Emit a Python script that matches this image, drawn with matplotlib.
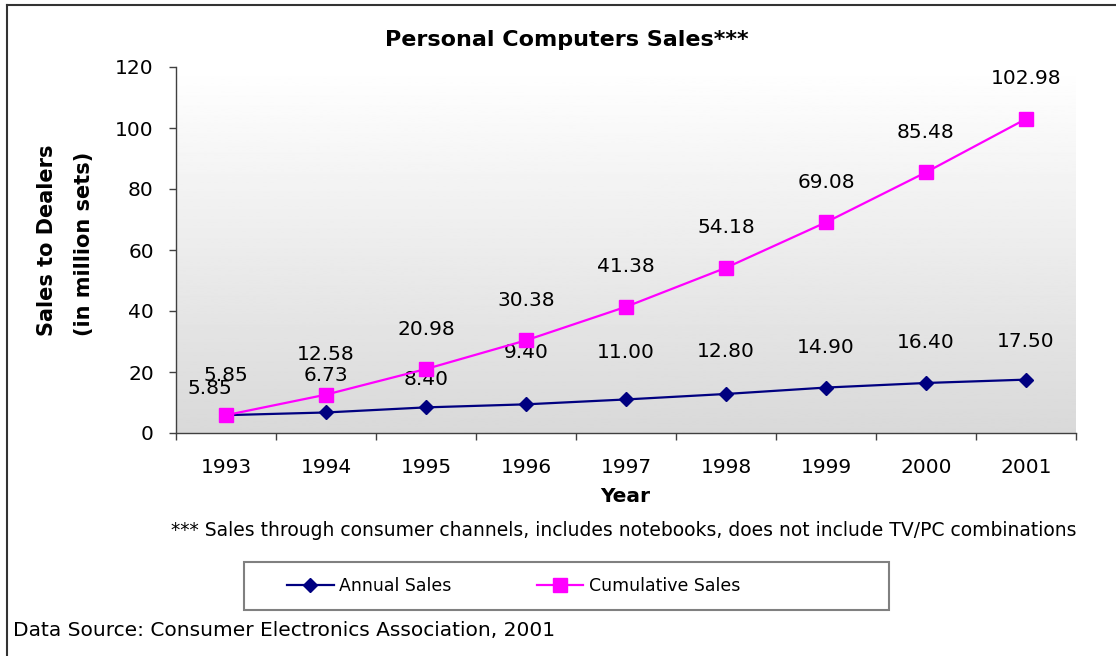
import numpy as np
import matplotlib
matplotlib.use("Agg")
import matplotlib.pyplot as plt
from matplotlib.lines import Line2D

# Chart data
years = ["1993", "1994", "1995", "1996", "1997", "1998", "1999", "2000", "2001"]
annual_sales = [5.85, 6.73, 8.40, 9.40, 11.00, 12.80, 14.90, 16.40, 17.50]
cumulative_sales = [5.85, 12.58, 20.98, 30.38, 41.38, 54.18, 69.08, 85.48, 102.98]
y_ticks = [0, 20, 40, 60, 80, 100, 120]

# label offsets (pixels) as placed in the original chart
annual_label_offsets = [(-16, 27), (0, 37), (0, 28), (0, 52), (0, 47), (0, 42), (0, 40), (0, 40), (0, 38)]
cumulative_label_offset = (0, 40)

W, H = 1116, 656
plt.rcParams["font.family"] = ["DejaVu Sans"]

fig = plt.figure(figsize=(W / 100, H / 100), dpi=100)
fig.patch.set_facecolor("white")


def fx(px):
    return px / W


def fy(py):
    return 1 - py / H


ax = fig.add_axes([fx(176), fy(433), 900 / W, 366 / H])
x = np.arange(len(years))

# gradient plot area background
grad = np.linspace(1.0, 0.85, 256).reshape(-1, 1)
ax.imshow(grad, cmap="gray", vmin=0, vmax=1, aspect="auto",
          extent=[-0.5, len(years) - 0.5, 0, 120], origin="upper", zorder=0)

ax.plot(x, annual_sales, color="#000080", lw=1.6, marker="D", ms=7,
        mfc="#000080", mec="#000080", zorder=3)
ax.plot(x, cumulative_sales, color="#ff00ff", lw=1.6, marker="s", ms=9.5,
        mfc="#ff00ff", mec="#ff00ff", zorder=4)

for i, v in enumerate(annual_sales):
    ax.annotate(f"{v:.2f}", (x[i], v), xytext=annual_label_offsets[i],
                textcoords="offset pixels", ha="center", va="center", fontsize=14.5)
for i, v in enumerate(cumulative_sales):
    ax.annotate(f"{v:.2f}", (x[i], v), xytext=cumulative_label_offset,
                textcoords="offset pixels", ha="center", va="center", fontsize=14.5)

ax.set_xlim(-0.5, len(years) - 0.5)
ax.set_ylim(0, 120)
ax.set_yticks(y_ticks)
ax.set_xticks(x)
ax.set_xticklabels(years)
ax.set_xticks(np.arange(-0.5, len(years)), minor=True)
ax.tick_params(axis="x", which="major", length=0, pad=18, labelsize=14.5)
ax.tick_params(axis="x", which="minor", length=5, width=1, color="#404040")
ax.tick_params(axis="y", length=5, width=1, color="#404040", pad=11, labelsize=14.5)
for s in ["top", "right"]:
    ax.spines[s].set_visible(False)
for s in ["left", "bottom"]:
    ax.spines[s].set_color("#404040")
    ax.spines[s].set_linewidth(1)

# titles and notes
fig.text(fx(567), fy(40), "Personal Computers Sales***", ha="center", va="center",
         fontsize=16, fontweight="bold")
fig.text(fx(625), fy(497), "Year", ha="center", va="center", fontsize=14.5, fontweight="bold")
fig.text(fx(47), fy(240), "Sales to Dealers", ha="center", va="center", rotation=90,
         fontsize=15, fontweight="bold")
fig.text(fx(84), fy(244), "(in million sets)", ha="center", va="center", rotation=90,
         fontsize=15, fontweight="bold")
fig.text(fx(624), fy(530),
         "*** Sales through consumer channels, includes notebooks, does not include TV/PC combinations",
         ha="center", va="center", fontsize=13.5)
fig.text(fx(13), fy(631), "Data Source: Consumer Electronics Association, 2001",
         ha="left", va="center", fontsize=14.5)

# legend box
fig.add_artist(plt.Rectangle((fx(244), fy(610)), (889 - 244) / W, 48 / H,
                             transform=fig.transFigure, fill=False,
                             edgecolor="#808080", lw=1.5))
handles = [Line2D([], [], color="#000080", lw=1.6, marker="D", ms=7),
           Line2D([], [], color="#ff00ff", lw=1.6, marker="s", ms=9.5)]
fig.legend(handles, ["Annual Sales", "Cumulative Sales"], loc="center left",
           bbox_to_anchor=(fx(287), fy(586)), ncol=2, frameon=False, fontsize=12.5,
           borderpad=0, borderaxespad=0, handlelength=2.7, handletextpad=0.3,
           columnspacing=4.9)

# outer frame (top and left edges visible)
fig.add_artist(Line2D([fx(7), 1], [fy(5), fy(5)], transform=fig.transFigure,
                      color="#333333", lw=1.5))
fig.add_artist(Line2D([fx(7), fx(7)], [fy(5), 0], transform=fig.transFigure,
                      color="#333333", lw=1.5))

fig.savefig("out.png", dpi=100)
